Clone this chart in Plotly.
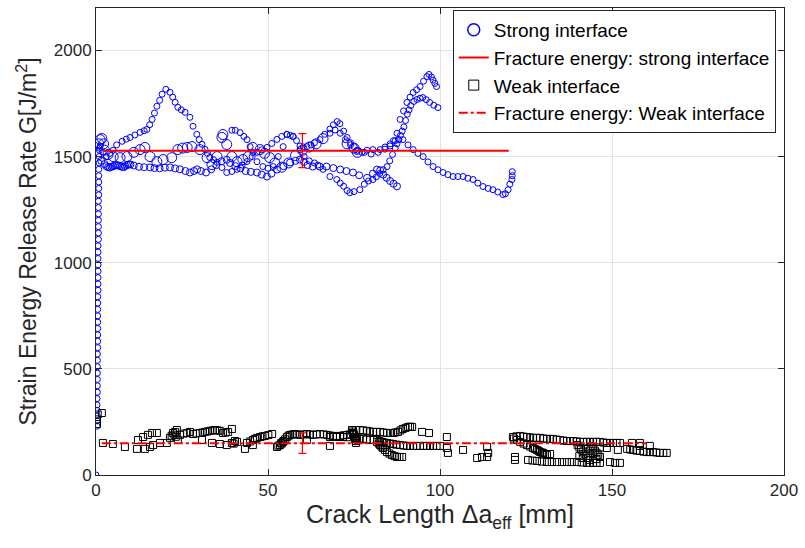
import plotly.graph_objects as go

# ---------------- data (x = crack length mm, G = J/m^2) ----------------
strong_rise_x = [0.0, 0.3, 0.3, 0.3, 0.3, 0.3, 0.3, 0.4, 0.4, 0.4, 0.4, 0.4, 0.4, 0.4,
                 0.5, 0.5, 0.5, 0.5, 0.5, 0.5, 0.5, 0.5, 0.5, 0.6, 0.6, 0.6, 0.6, 0.6,
                 0.6, 0.6, 0.6, 0.7, 0.7, 0.7, 0.7, 0.7, 0.7, 0.7, 0.8, 0.8, 0.8, 0.8,
                 0.8, 0.9, 0.9, 1.0, 1.2]
strong_rise_g = [0, 230, 255, 280, 305, 330, 360, 390, 420, 450, 480, 510, 540, 570,
                 600, 630, 660, 690, 720, 750, 780, 810, 840, 870, 900, 930, 960, 990,
                 1020, 1050, 1080, 1110, 1140, 1170, 1200, 1230, 1260, 1290, 1320, 1350,
                 1380, 1410, 1440, 1470, 1500, 1530, 1550]

strong_a_pts = [(1.0, 1540), (2.0, 1520), (3.0, 1500), (4.0, 1515), (5.0, 1530), (6.0, 1555),
    (7.6, 1572), (8.8, 1582), (9.9, 1590), (11.3, 1602), (12.8, 1614), (14.0, 1622), (14.8, 1628),
    (15.6, 1650), (16.3, 1675), (17.0, 1705), (17.7, 1737), (18.5, 1765), (19.2, 1794), (20.3, 1817),
    (21.5, 1803), (22.3, 1780), (23.0, 1756), (23.8, 1732), (24.8, 1720), (25.9, 1709), (27.3, 1685),
    (28.2, 1643), (29.3, 1605), (30.0, 1580), (30.8, 1558), (31.7, 1534), (32.4, 1515), (33.1, 1496),
    (34.2, 1485), (35.2, 1473), (36.6, 1449), (38.0, 1425), (39.5, 1430), (41.0, 1440), (42.5, 1460),
    (43.9, 1477), (45.4, 1500), (46.8, 1520), (48.2, 1532), (49.7, 1543), (51.1, 1562), (52.6, 1581),
    (54.0, 1595), (55.5, 1605), (56.5, 1600), (57.3, 1595), (58.3, 1575), (59.3, 1550), (60.3, 1545),
    (61.3, 1547), (62.5, 1555), (63.5, 1565), (65.1, 1580), (66.5, 1605), (68.0, 1630), (69.0, 1650),
    (70.1, 1665), (70.9, 1655), (72.0, 1620), (73.0, 1590), (74.0, 1565), (75.0, 1547), (75.9, 1524),
    (77.3, 1520), (78.8, 1530), (80.5, 1533), (82.6, 1533), (84.0, 1545), (85.5, 1560), (87.0, 1575),
    (88.0, 1580), (89.2, 1580), (90.7, 1555), (92.2, 1533), (93.6, 1515), (95.1, 1500), (96.5, 1475),
    (98.0, 1453), (99.4, 1438), (100.9, 1425), (102.3, 1415), (103.8, 1406), (105.2, 1406),
    (106.7, 1406), (108.1, 1398), (109.6, 1392), (111.0, 1375), (112.5, 1359), (114.0, 1350),
    (115.4, 1344), (116.8, 1333), (118.3, 1321), (119.0, 1325), (119.8, 1344), (120.3, 1370),
    (120.9, 1392), (121.0, 1410), (121.0, 1429)]

strong_b_big_pts = [(0.8, 1560), (1.2, 1580), (1.7, 1585), (2.2, 1560), (2.5, 1530), (3.5, 1510),
    (5.0, 1500), (7.0, 1495), (9.0, 1500), (11.0, 1520), (12.8, 1533), (14.2, 1543), (15.7, 1500),
    (17.7, 1476), (19.5, 1486), (22.0, 1495), (23.8, 1533), (25.2, 1540), (26.5, 1543), (27.9, 1547),
    (30.2, 1533), (32.3, 1495), (33.7, 1462), (35.2, 1500), (36.6, 1590), (36.9, 1604), (38.0, 1557),
    (39.5, 1500), (41.0, 1476), (42.7, 1486), (44.2, 1500), (45.6, 1543), (47.7, 1533), (49.0, 1515),
    (50.5, 1495), (52.0, 1470), (54.0, 1450), (56.0, 1470), (58.0, 1505), (60.0, 1530), (62.0, 1545),
    (64.0, 1560), (66.0, 1585), (73.0, 1560), (75.0, 1540), (76.0, 1520)]

strong_b_pts = [(68.0, 1610), (69.5, 1625), (71.0, 1610), (72.5, 1580), (74.0, 1555), (76.0, 1530),
    (78.0, 1520), (80.0, 1512), (82.0, 1520), (84.0, 1535), (85.5, 1550), (86.5, 1575), (87.5, 1610),
    (88.4, 1675), (89.4, 1715), (90.4, 1755), (91.3, 1780), (92.2, 1802), (93.2, 1815), (94.2, 1830),
    (95.2, 1855), (96.2, 1877), (96.8, 1887), (97.5, 1875), (98.0, 1860), (98.5, 1845), (99.0, 1830)]

strong_c_pts = [(1.5, 1480), (2.5, 1465), (3.0, 1455), (3.5, 1450), (4.0, 1448), (4.5, 1452),
    (5.0, 1455), (5.5, 1458), (6.0, 1460), (6.5, 1458), (7.0, 1455), (7.5, 1452), (8.0, 1450),
    (8.5, 1455), (9.0, 1460), (9.5, 1463), (10.0, 1463), (11.0, 1458), (12.5, 1452), (14.0, 1450),
    (15.7, 1449), (17.0, 1446), (18.5, 1445), (20.0, 1448), (21.5, 1449), (23.0, 1444), (24.4, 1440),
    (26.0, 1432), (27.3, 1425), (28.5, 1432), (29.4, 1440), (30.5, 1432), (32.0, 1425), (33.5, 1440),
    (35.0, 1460), (36.5, 1478), (38.0, 1485), (39.0, 1470), (40.5, 1455), (42.0, 1445), (43.5, 1432),
    (45.0, 1428), (46.8, 1425), (48.2, 1415), (49.7, 1406), (51.0, 1420), (52.6, 1439), (54.5, 1455),
    (56.4, 1472), (58.0, 1480), (59.3, 1486), (60.5, 1475), (61.5, 1460), (63.0, 1453), (65.0, 1453),
    (67.0, 1453), (69.0, 1446), (71.0, 1439), (72.8, 1432), (74.7, 1425), (76.5, 1412), (78.8, 1400),
    (80.5, 1420), (81.7, 1439), (82.6, 1435), (83.5, 1415), (84.5, 1400), (85.5, 1385), (86.5, 1372),
    (87.5, 1360)]

strong_d_pts = [(39.5, 1624), (40.5, 1624), (41.9, 1613), (43.0, 1595), (43.9, 1580), (44.8, 1547),
    (45.6, 1519), (46.8, 1476), (48.5, 1453), (50.0, 1445), (51.5, 1453), (53.0, 1500), (54.4, 1547),
    (55.5, 1604), (57.3, 1595), (59.3, 1533), (60.5, 1500), (62.0, 1480), (63.5, 1470), (64.5, 1460),
    (66.0, 1440), (68.0, 1406), (70.0, 1392), (71.0, 1375), (72.0, 1360), (73.0, 1340), (73.8, 1330),
    (75.0, 1335), (76.7, 1344), (78.0, 1370), (79.2, 1385), (80.5, 1392), (81.5, 1405), (82.5, 1420),
    (83.5, 1438), (84.6, 1453), (85.4, 1480), (86.2, 1510), (87.0, 1540), (87.5, 1560), (88.0, 1580),
    (88.5, 1600), (89.0, 1620), (89.5, 1640), (90.0, 1670), (90.5, 1700), (91.0, 1720), (91.5, 1740),
    (92.4, 1760), (93.3, 1769), (94.2, 1775), (95.0, 1778), (96.0, 1768), (97.0, 1755), (98.2, 1742),
    (99.4, 1731)]

weak_a_pts = [(0.3, 240), (0.3, 262), (0.5, 285), (1.7, 292), (2.0, 151), (4.9, 146), (8.4, 132),
    (11.9, 123), (14.2, 123), (15.7, 132), (16.6, 141), (12.2, 165), (13.7, 179), (15.1, 189),
    (16.3, 198), (17.7, 198), (18.6, 151), (20.6, 151), (21.5, 175), (22.0, 185), (22.4, 198),
    (23.0, 203), (23.5, 212), (22.8, 190), (23.2, 180), (23.8, 165), (24.4, 189), (25.5, 195),
    (26.5, 198), (27.3, 203), (28.2, 193), (29.2, 196), (30.2, 198), (31.0, 200), (31.7, 203),
    (32.4, 205), (33.1, 208), (33.9, 210), (34.6, 212), (35.3, 210), (36.0, 208), (36.9, 198),
    (37.7, 200), (38.4, 203), (39.5, 217), (30.8, 165), (33.7, 151), (36.0, 146), (38.0, 141),
    (39.5, 151), (40.4, 160), (41.0, 156), (40.0, 148), (43.3, 123), (43.9, 151), (44.8, 158),
    (45.6, 165), (46.2, 170), (46.8, 175), (47.7, 179), (48.4, 182), (49.1, 184), (50.1, 188),
    (51.2, 193), (45.6, 141)]

weak_b_pts = [(52.6, 132), (53.0, 138), (53.5, 141), (54.0, 148), (54.4, 156), (55.0, 168),
    (55.5, 179), (56.0, 185), (56.4, 189), (57.1, 191), (57.8, 193), (58.5, 191), (59.3, 189),
    (60.3, 191), (61.3, 193), (62.2, 191), (63.1, 189), (64.1, 191), (65.1, 193), (66.2, 191),
    (67.2, 189), (68.0, 186), (68.9, 184), (69.9, 184), (70.9, 184), (72.0, 187), (73.0, 189),
    (73.8, 191), (74.7, 193), (53.8, 150), (54.5, 160), (61.3, 165), (68.0, 137),
    (74.4, 212), (74.6, 205), (74.8, 198), (75.0, 190), (75.2, 180), (75.3, 170), (75.5, 160),
    (75.6, 151), (75.9, 175),
    (75.5, 212), (76.7, 212), (77.7, 210), (78.8, 208), (79.6, 205), (80.5, 203), (81.5, 203),
    (82.6, 203), (83.6, 200), (84.6, 198), (85.5, 198), (86.3, 198), (87.0, 200), (87.8, 203),
    (88.5, 210), (89.2, 217), (90.0, 222), (90.7, 226), (91.3, 228), (91.9, 226), (94.8, 203),
    (96.8, 198),
    (68.0, 179), (70.0, 179), (71.8, 179), (73.0, 178), (75.3, 175), (76.5, 172), (77.6, 170),
    (78.7, 167), (79.7, 165), (80.7, 165), (81.7, 165), (82.4, 160), (83.1, 156), (83.8, 153),
    (84.6, 151), (85.5, 148), (86.3, 146), (87.3, 143), (88.4, 141), (89.4, 139), (90.4, 137),
    (91.3, 137), (92.2, 137), (93.2, 137), (94.2, 137), (95.2, 137), (96.2, 137), (97.1, 137),
    (98.0, 137), (99.0, 137), (100.0, 137),
    (81.7, 156), (82.2, 148), (82.6, 141), (83.0, 134), (83.4, 127), (84.0, 118), (84.6, 108),
    (85.3, 101), (86.0, 94), (86.8, 89), (87.5, 85), (88.2, 85), (89.0, 85)]

weak_c_pts = [(102.0, 179), (102.0, 127), (102.3, 104), (106.7, 118), (110.8, 80), (112.2, 85),
    (113.7, 85), (113.7, 132), (114.0, 104), (121.8, 85), (121.8, 71),
    (121.2, 179), (122.2, 182), (123.3, 184), (124.3, 181), (125.3, 179), (126.2, 177), (127.0, 175),
    (128.0, 175), (129.1, 175), (130.1, 172), (131.1, 170), (132.0, 170), (132.8, 170), (133.9, 167),
    (134.9, 165), (135.9, 162), (136.9, 160), (137.8, 160), (138.7, 160), (139.7, 158), (140.7, 156),
    (141.7, 156), (142.7, 156), (143.6, 156), (144.5, 156), (145.5, 156), (146.5, 156), (147.5, 153),
    (148.5, 151), (149.4, 151), (150.3, 151), (151.3, 151), (152.3, 151), (155.8, 151), (158.1, 151),
    (121.5, 172), (122.4, 165), (123.3, 156), (124.3, 148), (125.3, 141), (126.2, 134), (127.0, 127),
    (127.6, 122), (128.2, 118), (128.7, 113), (129.1, 108), (129.6, 106), (130.0, 104), (130.5, 99),
    (131.1, 94), (132.0, 99),
    (125.6, 71), (126.9, 68), (128.2, 66), (129.6, 63), (131.1, 61), (132.5, 61), (134.0, 61),
    (135.5, 61), (136.9, 61), (138.3, 61), (139.8, 61), (141.2, 59), (142.7, 57), (143.6, 57),
    (144.5, 57), (145.5, 57), (146.5, 57),
    (140.0, 141), (140.5, 130), (141.0, 120), (141.5, 110), (142.0, 100), (142.5, 90), (143.0, 80),
    (143.5, 71), (144.0, 135), (144.5, 125), (145.0, 115), (145.5, 105), (146.0, 95), (146.5, 85),
    (140.5, 90), (141.5, 80), (142.5, 125), (143.5, 115), (144.5, 100), (145.5, 75), (146.5, 130),
    (148.5, 127), (149.4, 61), (150.9, 57), (152.3, 57), (151.7, 118),
    (154.4, 123), (155.3, 120), (156.1, 118), (157.1, 115), (158.1, 113), (159.2, 110), (160.2, 108),
    (161.0, 108), (161.9, 108), (162.9, 106), (163.9, 104), (164.9, 104), (165.9, 104), (158.1, 137),
    (161.0, 137)]

strong_mean_x = [2, 120]
strong_mean_g = [1528, 1528]
strong_err_x = [60]
strong_err_g = [1528]
strong_err = [80]

weak_mean_x = [1.7, 160]
weak_mean_g = [150, 150]
weak_err_x = [60]
weak_err_g = [150]
weak_err = [48]

x_ticks = [0, 50, 100, 150, 200]
y_ticks = [0, 500, 1000, 1500, 2000]

BLUE = "#0000ff"
RED = "#ff0000"
INK = "#262626"


def xs(pts):
    return [p[0] for p in pts]


def gs(pts):
    return [p[1] for p in pts]


fig = go.Figure()

# strong interface markers
strong_sets = [(strong_rise_x, strong_rise_g, 6), (xs(strong_a_pts), gs(strong_a_pts), 6),
               (xs(strong_b_big_pts), gs(strong_b_big_pts), 10), (xs(strong_b_pts), gs(strong_b_pts), 6),
               (xs(strong_c_pts), gs(strong_c_pts), 7), (xs(strong_d_pts), gs(strong_d_pts), 6)]
for sx, sg, sz in strong_sets:
    fig.add_trace(go.Scatter(x=sx, y=sg, mode="markers", showlegend=False, hoverinfo="skip",
                             marker=dict(symbol="circle-open", size=sz, color=BLUE, line=dict(width=1, color=BLUE))))
fig.add_trace(go.Scatter(x=[None], y=[None], mode="markers", name="Strong interface", legendrank=1,
                         marker=dict(symbol="circle-open", size=12, color=BLUE, line=dict(width=1.5, color=BLUE))))

fig.add_trace(go.Scatter(x=strong_mean_x, y=strong_mean_g, mode="lines", name="Fracture energy: strong interface",
                         legendrank=2, line=dict(color=RED, width=2)))
fig.add_trace(go.Scatter(x=strong_err_x, y=strong_err_g, mode="markers", showlegend=False,
                         marker=dict(size=1, color=RED),
                         error_y=dict(type="data", array=strong_err, color=RED, thickness=1.2, width=4)))

# weak interface markers
for wp in (weak_a_pts, weak_b_pts, weak_c_pts):
    fig.add_trace(go.Scatter(x=xs(wp), y=gs(wp), mode="markers", showlegend=False, hoverinfo="skip",
                             marker=dict(symbol="square-open", size=7, color="black", line=dict(width=1, color="black"))))
fig.add_trace(go.Scatter(x=[None], y=[None], mode="markers", name="Weak interface", legendrank=3,
                         marker=dict(symbol="square-open", size=10, color="black", line=dict(width=1, color="black"))))

fig.add_trace(go.Scatter(x=weak_mean_x, y=weak_mean_g, mode="lines", name="Fracture energy: Weak interface",
                         legendrank=4, line=dict(color=RED, width=2, dash="dashdot")))
fig.add_trace(go.Scatter(x=weak_err_x, y=weak_err_g, mode="markers", showlegend=False,
                         marker=dict(size=1, color=RED),
                         error_y=dict(type="data", array=weak_err, color=RED, thickness=1.2, width=4)))

axis_common = dict(showline=True, linecolor=INK, linewidth=1, mirror="allticks", ticks="inside",
                   ticklen=6, tickcolor=INK, showgrid=True, gridcolor="#e3e3e3", gridwidth=1,
                   zeroline=False, tickfont=dict(size=17, color=INK))

fig.update_layout(
    width=805, height=548,
    margin=dict(l=96, r=21, t=8, b=73),
    paper_bgcolor="white", plot_bgcolor="white",
    font=dict(family="Liberation Sans, Arial, sans-serif", color=INK),
    xaxis=dict(range=[0, 200], tickvals=x_ticks, ticktext=[str(v) for v in x_ticks],
               title=dict(text="Crack Length Δa<sub>eff</sub> [mm]", font=dict(size=25, color=INK), standoff=4),
               **axis_common),
    yaxis=dict(range=[0, 2200], tickvals=y_ticks, ticktext=[str(v) for v in y_ticks],
               title=dict(text="Strain Energy Release Rate G[J/m<sup>2</sup>]", font=dict(size=23, color=INK), standoff=10),
               **axis_common),
    legend=dict(x=0.988, y=0.996, xanchor="right", yanchor="top", bgcolor="white",
                bordercolor=INK, borderwidth=1, font=dict(size=19, color="black"),
                itemwidth=30, tracegroupgap=0),
    showlegend=True,
)

fig.write_html("out.html")
